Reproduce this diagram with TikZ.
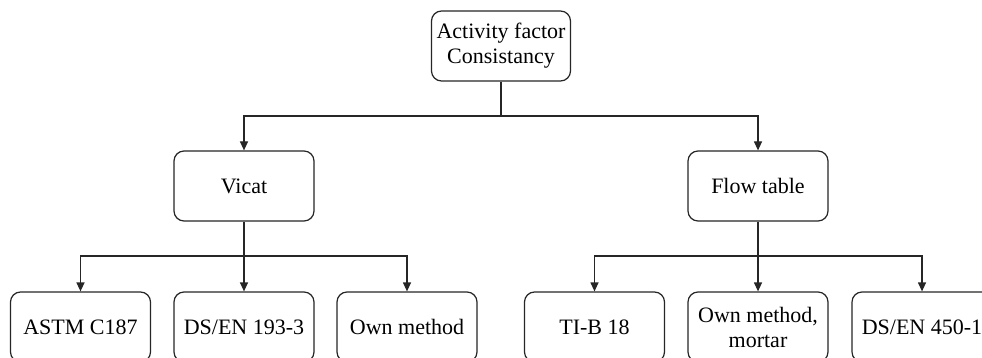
\documentclass[tikz,border=0pt]{standalone}
\usepackage{fontspec}
\setmainfont{Liberation Serif}
\usetikzlibrary{arrows.meta}
\begin{document}
\begin{tikzpicture}[x=1pt,y=-1pt,
  box/.style={draw=black!85, line width=1.2pt, rounded corners=10pt, minimum width=140pt, minimum height=70pt, align=center, font=\fontsize{22}{25}\selectfont, inner sep=0pt, fill=white},
  conn/.style={draw=black!85, line width=1.2pt},
  arr/.style={conn, -{Triangle[length=9pt,width=8pt]}}]
\useasboundingbox (0,0) rectangle (982,358);
\clip (0,0) rectangle (982,358);
\node[box, minimum width=139pt] (root) at (501,46) {Activity factor\\Consistancy};
\node[box] (vicat) at (244,186) {Vicat};
\node[box] (flow) at (758,186) {Flow table};
\node[box] (astm) at (80.5,327) {ASTM C187};
\node[box] (dsa) at (244,327) {DS/EN 193-3};
\node[box] (owna) at (407,327) {Own method};
\node[box] (tib) at (594.5,327) {TI-B 18};
\node[box] (ownb) at (758,327) {Own method,\\mortar};
\node[box] (dsb) at (922,327) {DS/EN 450-1};
\coordinate (j0) at (501,116);
\coordinate (j1) at (244,256);
\coordinate (j2) at (758,256);
\draw[conn] (root.south) -- (j0);
\draw[arr] (j0) -| (vicat.north);
\draw[arr] (j0) -| (flow.north);
\draw[conn] (vicat.south) -- (j1);
\draw[arr] (j1) -| (astm.north);
\draw[arr] (j1) -- (dsa.north);
\draw[arr] (j1) -| (owna.north);
\draw[conn] (flow.south) -- (j2);
\draw[arr] (j2) -| (tib.north);
\draw[arr] (j2) -- (ownb.north);
\draw[arr] (j2) -| (dsb.north);
\end{tikzpicture}
\end{document}
